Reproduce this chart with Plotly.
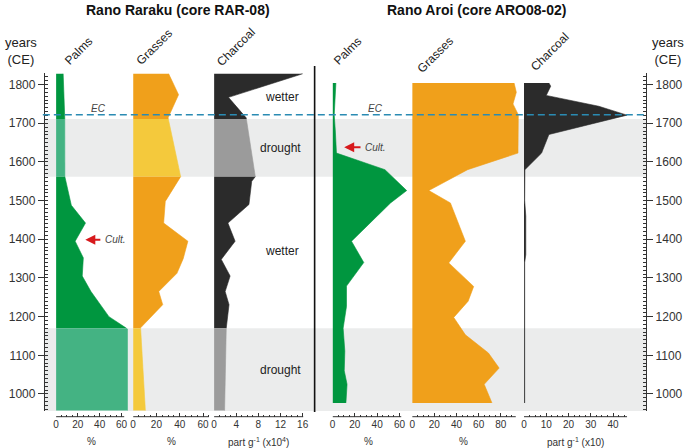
import plotly.graph_objects as go

W, H = 686, 448

# ---------------- data (years CE, values) ----------------
rar_palms_years = [1828, 1722, 1563, 1500, 1488, 1442, 1395, 1352, 1305, 1265, 1230, 1200, 1171, 1168, 957]
rar_palms_pct = [6.5, 8, 8, 12.5, 14, 27, 17.5, 25, 24, 32, 41, 48.5, 64, 65.5, 65.5]

rar_grass_years = [1828, 1774, 1714, 1563, 1498, 1442, 1395, 1350, 1312, 1265, 1231, 1171, 957]
rar_grass_pct = [30.5, 39, 30, 41, 27.6, 26.2, 47, 43, 37.6, 22, 25.4, 6.4, 10.5]

rar_char_years = [1828, 1767, 1714, 1563, 1550, 1490, 1442, 1395, 1348, 1305, 1265, 1231, 1171, 957]
rar_char_val = [16, 2.6, 5.8, 7.5, 6.8, 6.3, 2.5, 3.8, 1.3, 2.9, 2.0, 2.7, 2.2, 1.9]

aro_palms_years = [1804, 1722, 1680, 1623, 1580, 1526, 1494, 1395, 1340, 1279, 1226, 1170, 1111, 1060, 1025, 977]
aro_palms_pct = [3, 1.5, 2.5, 3.5, 47, 66.5, 52, 17, 28, 12.5, 12.5, 9.5, 11, 10.5, 13, 12]

aro_grass_years = [1804, 1780, 1750, 1722, 1623, 1580, 1526, 1494, 1395, 1339, 1278, 1240, 1198, 1153, 1106, 1067, 1025, 977]
aro_grass_pct = [92, 94, 91, 95.8, 95.5, 50, 15, 34.5, 48, 33, 55.5, 50.5, 37.5, 48, 68.8, 78.5, 65, 72]

aro_char_years = [1804, 1796, 1772, 1744, 1721, 1671, 1623, 1580, 1500, 1460, 1360, 1340, 977]
aro_char_val = [11.2, 12, 10, 33.6, 46.3, 11.2, 7.9, 0.4, 0.3, 0.8, 0.8, 0.3, 0.3]

drought_periods = [(1562, 1711), (900, 1170)]
ec_year = 1722

year_ticks = [1000, 1100, 1200, 1300, 1400, 1500, 1600, 1700, 1800]
pct_ticks = [0, 20, 40, 60]
pct_ticks_aro_grass = [0, 20, 40, 60, 80]
rar_char_ticks = [0, 4, 8, 12, 16]
aro_char_ticks = [0, 10, 20, 30, 40]

# ---------------- styling ----------------
Y_MIN, Y_MAX = 956, 1830
GREEN, GREEN_D = "#00963f", "#44b383"
ORANGE, YELLOW = "#f0a01b", "#f4c93c"
BLACK, GREY = "#2b2b2b", "#9b9b9b"
BAND = "#ebecec"
FONT = "Liberation Sans, Arial, sans-serif"
TXT = "#333333"


def px(x):
    return x / W


def py(y):
    return 1 - y / H


def clip_segment(years, vals, lo, hi):
    pts = []
    for i in range(len(years)):
        y, v = years[i], vals[i]
        if lo <= y <= hi:
            pts.append((y, v))
        if i + 1 < len(years):
            y2, v2 = years[i + 1], vals[i + 1]
            for b in (hi, lo):
                if (y - b) * (y2 - b) < 0:
                    t = (y - b) / (y - y2)
                    pts.append((b, v + t * (v2 - v)))
    pts.sort(key=lambda p: -p[0])
    return pts


def periods():
    segs = []
    cur = 2000
    for lo, hi in sorted(drought_periods, key=lambda p: -p[1]):
        if hi < cur:
            segs.append((hi, cur, False))
        segs.append((lo, hi, True))
        cur = lo
    return segs


fig = go.Figure()


def add_fill(years, vals, xa, color, color_d=None):
    if color_d is None:
        fig.add_trace(go.Scatter(x=vals, y=years, mode="lines", fill="tozerox",
                                 fillcolor=color, line=dict(color=color, width=0.6),
                                 xaxis=xa, yaxis="y", hoverinfo="skip", showlegend=False))
        return
    for lo, hi, dr in periods():
        pts = clip_segment(years, vals, lo, hi)
        if len(pts) < 2:
            continue
        c = color_d if dr else color
        fig.add_trace(go.Scatter(x=[p[1] for p in pts], y=[p[0] for p in pts], mode="lines",
                                 fill="tozerox", fillcolor=c, line=dict(color=c, width=0.6),
                                 xaxis=xa, yaxis="y", hoverinfo="skip", showlegend=False))


add_fill(rar_palms_years, rar_palms_pct, "x", GREEN, GREEN_D)
add_fill(rar_grass_years, rar_grass_pct, "x2", ORANGE, YELLOW)
add_fill(rar_char_years, rar_char_val, "x3", BLACK, GREY)
add_fill(aro_palms_years, aro_palms_pct, "x4", GREEN)
add_fill(aro_grass_years, aro_grass_pct, "x5", ORANGE)
add_fill(aro_char_years, aro_char_val, "x6", BLACK)
fig.add_trace(go.Scatter(x=[None], y=[None], xaxis="x6", yaxis="y2", showlegend=False, hoverinfo="skip"))

# panels: (axis name, left px, right px, px per unit, ticks, minor step, axis end)
panels = [
    ("xaxis", 53.3, 128, 1.095, pct_ticks, 5, 62.5),
    ("xaxis2", 130.7, 209, 1.17, pct_ticks, 5, 65),
    ("xaxis3", 212, 311, 5.56, rar_char_ticks, 1, 16.1),
    ("xaxis4", 331, 409, 1.12, pct_ticks, 5, 61.6),
    ("xaxis5", 411, 521, 1.1125, pct_ticks_aro_grass, 5, 93.5),
    ("xaxis6", 523.3, 636, 2.235, aro_char_ticks, 2.5, 46.3),
]
AX_Y = 416.7
shapes = []
layout_axes = {}
for name, x0, x1, sc, ticks, mstep, aend in panels:
    n = int(aend / mstep + 1e-9)
    minor_vals = [i * mstep for i in range(n + 1)]
    layout_axes[name] = dict(
        domain=[px(x0), px(x1)], range=[0, (x1 - x0) / sc], anchor="free", position=py(AX_Y),
        showline=False, showgrid=False, zeroline=False, fixedrange=True,
        tickmode="array", tickvals=ticks, ticks="inside", ticklen=4, tickwidth=1, tickcolor=TXT,
        tickfont=dict(size=10, color=TXT, family=FONT),
        minor=dict(tickmode="array", tickvals=minor_vals, ticks="inside", ticklen=2, tickwidth=1, tickcolor=TXT),
    )
    ref = "x" if name == "xaxis" else "x" + name[5:]
    shapes.append(dict(type="line", xref=ref, yref="paper", x0=0, x1=aend, y0=py(AX_Y), y1=py(AX_Y),
                       line=dict(color=TXT, width=1), layer="above"))

minor_years = list(range(960, 1830, 10))
yax_common = dict(
    range=[Y_MIN, Y_MAX], showline=True, linecolor=TXT, linewidth=1, showgrid=False, zeroline=False,
    fixedrange=True, tickmode="array", tickvals=year_ticks, ticks="outside", ticklen=6, tickwidth=1,
    tickcolor=TXT, tickfont=dict(size=12, color=TXT, family=FONT),
    minor=dict(tickmode="array", tickvals=minor_years, ticks="inside", ticklen=3, tickwidth=1, tickcolor=TXT),
)
layout_axes["yaxis"] = dict(domain=[py(411), py(73)], anchor="free", position=px(41), side="left", **yax_common)
layout_axes["yaxis2"] = dict(overlaying="y", anchor="free", position=px(646), side="right", **yax_common)

for lo, hi in drought_periods:
    shapes.append(dict(type="rect", xref="paper", yref="y", x0=px(41), x1=px(646),
                       y0=max(lo, Y_MIN), y1=hi, fillcolor=BAND, line=dict(width=0), layer="below"))
shapes.append(dict(type="line", xref="paper", yref="y", x0=px(40), x1=px(646), y0=ec_year, y1=ec_year,
                   line=dict(color="#2a8bb3", width=1.5, dash="7px,4px"), layer="above"))
shapes.append(dict(type="line", xref="paper", yref="paper", x0=px(313), x1=px(313), y0=py(412), y1=py(66),
                   line=dict(color="#111111", width=1.6), layer="above"))

ann = []


def text(x, y, s, size=12, color="#222222", angle=0):
    ann.append(dict(x=px(x), y=py(y), xref="paper", yref="paper", text=s, showarrow=False,
                    font=dict(size=size, color=color, family=FONT), textangle=angle,
                    xanchor="center", yanchor="middle"))


text(176, 10, "<b>Rano Raraku (core RAR-08)</b>", 14, "#111111")
text(476, 10, "<b>Rano Aroi (core ARO08-02)</b>", 14, "#111111")
text(18, 51, "years<br>(CE)", 13)
text(668, 51, "years<br>(CE)", 13)
for (x, y, s) in [(76, 51, "Palms"), (152, 47, "Grasses"), (234, 47, "Charcoal"),
                  (346, 51, "Palms"), (434, 55, "Grasses"), (549, 52, "Charcoal")]:
    text(x, y, s, 12, "#222222", -45)
for (x, s) in [(89, "%"), (169, "%"), (257, "part g<sup>-1</sup> (x10<sup>4</sup>)"),
               (367, "%"), (463, "%"), (575, "part g<sup>-1</sup> (x10)")]:
    text(x, 441.5, s, 10, TXT)
text(280, 97, "wetter", 12)
text(279, 148, "drought", 12)
text(280, 251, "wetter", 12)
text(279, 370, "drought", 12)
text(96, 108, "<i>EC</i>", 10, "#444444")
text(374, 108, "<i>EC</i>", 10, "#444444")
# "Cult." labels with red arrows pointing left
for (hx, hy, tx) in [(82.7, 239.7, 112.7), (342.7, 147.3, 374)]:
    ann.append(dict(x=px(hx), y=py(hy), xref="paper", yref="paper", ax=tx - hx, ay=0,
                    text="<i>Cult.</i>", font=dict(size=10, color="#444444", family=FONT),
                    showarrow=True, arrowhead=2, arrowsize=1, arrowwidth=2, arrowcolor="#d7191c",
                    standoff=0, startstandoff=3))

fig.update_layout(
    width=W, height=H, margin=dict(l=0, r=0, t=0, b=0), paper_bgcolor="white",
    plot_bgcolor="rgba(0,0,0,0)", showlegend=False, font=dict(family=FONT, color="#222222"),
    shapes=shapes, annotations=ann, **layout_axes,
)

fig.write_html("out.html", config={"displayModeBar": False},
               post_script="document.body.style.margin='0';document.body.style.overflow='hidden';")
